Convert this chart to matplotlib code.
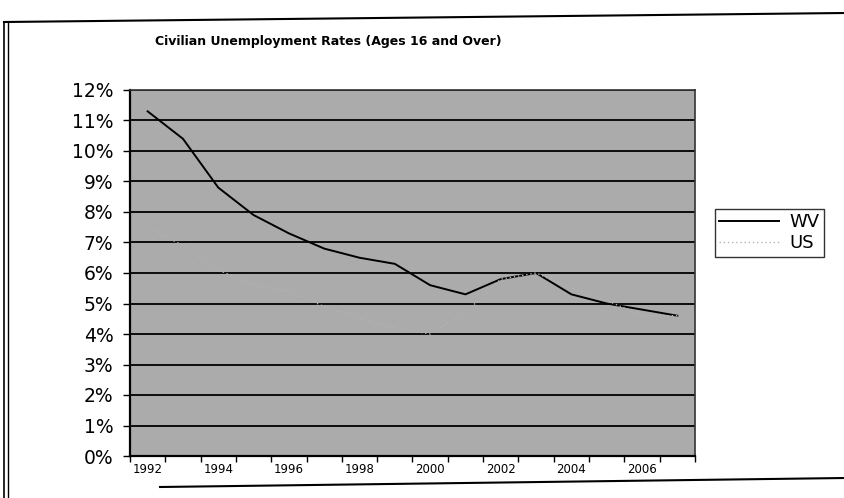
import numpy as np
import matplotlib
matplotlib.use("Agg")
import matplotlib.pyplot as plt
from matplotlib.lines import Line2D

plt.rcParams['font.family'] = ['DejaVu Sans']

years = list(range(1992, 2008))
wv = [11.3, 10.4, 8.8, 7.9, 7.3, 6.8, 6.5, 6.3, 5.6, 5.3, 5.8, 6.0, 5.3, 5.0, 4.8, 4.6]
us = [7.5, 6.9, 6.1, 5.6, 5.4, 4.9, 4.5, 4.2, 4.0, 4.7, 5.8, 6.0, 5.5, 5.1, 4.6, 4.6]
year_labels = [str(y) for y in years[::2]]
pct_labels = [f"{v}%" for v in range(0, 13)]

fig = plt.figure(figsize=(8.45, 4.98), dpi=100)
fig.patch.set_facecolor("white")

ax = fig.add_axes([130 / 845, 1 - 456 / 498, 565 / 845, 366 / 498])
ax.set_facecolor("#ababab")

x = np.arange(len(years))
ax.plot(x, wv, color="black", lw=1.4, label="WV", zorder=3)
# pale dotted US series, barely standing out from the grey plot area
ax.plot(x, us, color="#b3b3b3", lw=1.0, ls=(0, (1, 2)), label="US", zorder=3)

# horizontal gridlines every 1%
for v in range(1, 13):
    ax.axhline(v, color="black", lw=1.3, zorder=2)

ax.set_ylim(0, 12)
ax.set_xlim(-0.5, len(years) - 0.5)
ax.set_yticks(range(0, 13))
ax.set_yticklabels(pct_labels, fontsize=13.5)

# category axis: ticks on the boundaries, labels under every other category
ax.set_xticks(np.arange(-0.5, len(years), 1.0))
ax.set_xticklabels([])
ax.set_xticks(x[::2], minor=True)
ax.set_xticklabels(year_labels, minor=True, fontsize=8.5)
ax.tick_params(axis="x", which="minor", length=0, pad=5)
ax.tick_params(axis="x", which="major", length=4, width=1, direction="out")
ax.tick_params(axis="y", length=5, width=1, direction="out", pad=7)

for side in ["left", "bottom"]:
    ax.spines[side].set_linewidth(1.6)
for side in ["top", "right"]:
    ax.spines[side].set_linewidth(1.2)
    ax.spines[side].set_color("#333333")

fig.text(328 / 845, 1 - 41 / 498, "Civilian Unemployment Rates (Ages 16 and Over)",
         ha="center", va="center", fontsize=9, fontweight="bold")

leg = ax.legend(loc="upper left", bbox_to_anchor=(1.035, 0.675), frameon=True,
                fontsize=13, handlelength=3.3, handletextpad=0.6,
                borderpad=0.25, labelspacing=0.15, borderaxespad=0,
                fancybox=False)
leg.get_frame().set_edgecolor("black")
leg.get_frame().set_linewidth(1.0)

# outer chart frame
fw, fh = 845, 498
fig.add_artist(Line2D([4 / fw, 4 / fw], [0, 1 - 22 / fh], color="black", lw=1.2))
fig.add_artist(Line2D([8 / fw, 8 / fw], [0, 1 - 22 / fh], color="black", lw=1.0))
fig.add_artist(Line2D([4 / fw, 1], [1 - 22 / fh, 1 - 13 / fh], color="black", lw=1.5))
fig.add_artist(Line2D([160 / fw, 1], [1 - 487 / fh, 1 - 478 / fh], color="black", lw=1.5))

fig.savefig("out.png", dpi=100)
